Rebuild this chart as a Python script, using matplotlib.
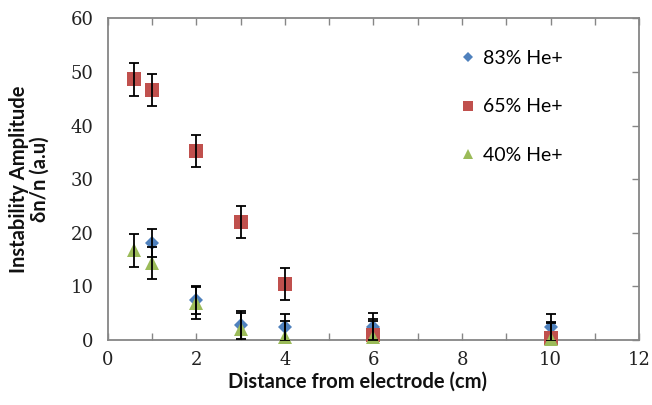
import numpy as np
import matplotlib.pyplot as plt
from matplotlib.lines import Line2D

# distance from electrode (cm)
x_83 = [1, 2, 3, 4, 6, 10]
y_83 = [18.1, 7.4, 2.8, 2.4, 2.5, 2.4]
e_83 = [2.6, 2.6, 2.6, 2.5, 2.5, 2.5]

x_65 = [0.6, 1, 2, 3, 4, 6, 10]
y_65 = [48.6, 46.7, 35.2, 22.0, 10.4, 1.0, 0.3]
e_65 = [3.0, 3.0, 3.0, 3.0, 3.0, 3.0, 3.0]

x_40 = [0.6, 1, 2, 3, 4, 6, 10]
y_40 = [16.7, 14.4, 6.9, 2.0, 0.6, 0.5, 0.2]
e_40 = [3.0, 3.0, 3.0, 3.0, 3.0, 3.0, 3.0]

labels = ["83% He+", "65% He+", "40% He+"]
colors = ["#4F81BD", "#C0504D", "#9BBB59"]
markers = ["D", "s", "^"]
msizes = [7, 9.5, 9.5]

fig = plt.figure(figsize=(6.52, 4.05), dpi=100)
ax = fig.add_axes([0.165, 0.1605, 0.8155, 0.7943])

series = [(x_83, y_83, e_83), (x_65, y_65, e_65), (x_40, y_40, e_40)]
for i, (xs, ys, es) in enumerate(series):
  ax.errorbar(xs, ys, yerr=es, fmt='none', ecolor='black', elinewidth=1.3,
              capsize=3.5, capthick=1.3, zorder=5)
  ax.plot(xs, ys, linestyle='none', marker=markers[i], color=colors[i],
          markersize=msizes[i], markeredgewidth=0, clip_on=False, zorder=3 + i * 0.1)

ax.set_xlim(0, 12)
ax.set_ylim(0, 60)
ax.set_xticks(np.arange(0, 13, 2))
ax.set_xticks(np.arange(0, 13, 1), minor=True)
ax.set_yticks(np.arange(0, 61, 10))

for s in ax.spines.values():
  s.set_color('#868686')
  s.set_linewidth(1.3)

ax.tick_params(axis='x', which='both', direction='in', top=True, bottom=True,
               length=5, width=1, color='#868686')
ax.tick_params(axis='y', which='both', direction='in', left=False, right=True,
               length=5, width=1, color='#868686', pad=10)
ax.tick_params(axis='x', which='major', pad=8)
for t in ax.get_xticklabels() + ax.get_yticklabels():
  t.set_fontfamily('DejaVu Serif')
  t.set_fontsize(13)
  t.set_color('#222222')

ax.set_xlabel("Distance from electrode (cm)", fontfamily='Lato', fontweight='bold',
              fontsize=14.5, color='#111111')
ax.xaxis.set_label_coords(0.47, -0.10)
ax.set_ylabel("Instability Amplitude\nδn/n (a.u)", fontfamily='Lato', fontweight='bold',
              fontsize=14.5, color='#111111', linespacing=1.1)
ax.yaxis.set_label_coords(-0.108, 0.5)

handles = [Line2D([], [], linestyle='none', marker=markers[i], color=colors[i],
                  markersize=msizes[i] * 0.8, markeredgewidth=0) for i in range(3)]
ax.legend(handles, labels, loc='upper left', bbox_to_anchor=(0.63, 0.955), frameon=False,
          prop={'family': 'Lato', 'size': 14}, labelspacing=1.6, handlelength=0.8,
          handletextpad=0.4)

fig.savefig("out.png", dpi=100)
